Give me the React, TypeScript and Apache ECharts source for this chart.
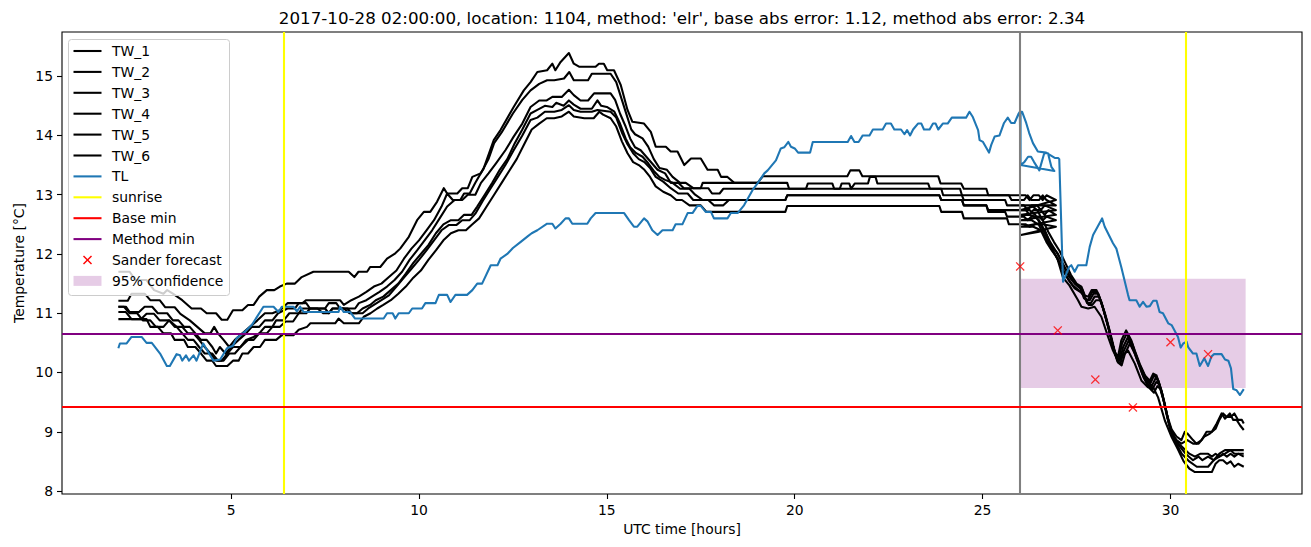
import React, { useEffect, useRef } from "react";
import * as echarts from "echarts";

const titleText =
  "2017-10-28 02:00:00, location: 1104, method: 'elr', base abs error: 1.12, method abs error: 2.34";
const xTicks = [5, 10, 15, 20, 25, 30];
const yTicks = [8, 9, 10, 11, 12, 13, 14, 15];

const tw1 = [[2.0,11.70],[2.3,11.70],[2.45,11.56],[2.75,11.56],[2.95,11.39],[3.2,11.33],[3.3,11.39],[3.45,11.33],[3.7,11.22],[3.95,11.08],[4.2,11.08],[4.35,11.0],[4.6,11.0],[4.75,10.89],[4.9,10.89],[5.05,11.05],[5.3,11.05],[5.45,11.14],[5.6,11.14],[5.75,11.28],[5.95,11.39],[6.15,11.39],[6.3,11.45],[6.48,11.5],[6.7,11.5],[6.88,11.61],[7.19,11.7],[8.13,11.7],[8.28,11.61],[8.39,11.7],[8.62,11.7],[8.7,11.78],[8.97,11.78],[9.15,11.92],[9.37,12.01],[9.5,12.09],[9.73,12.29],[9.95,12.57],[10.13,12.71],[10.3,12.71],[10.48,12.88],[10.66,13.11],[10.75,13.02],[11.02,13.02],[11.15,13.11],[11.3,13.11],[11.42,13.3],[11.64,13.36],[11.72,13.44],[11.99,13.92],[12.17,14.09],[12.52,14.48],[12.79,14.76],[12.97,14.9],[13.15,15.07],[13.41,15.1],[13.55,15.21],[13.63,15.1],[13.77,15.24],[13.99,15.39],[14.12,15.21],[14.26,15.16],[14.7,15.16],[14.79,15.21],[14.92,15.21],[15.01,15.1],[15.19,15.1],[15.37,14.85],[15.55,14.43],[15.68,14.23],[15.99,14.2],[16.17,14.06],[16.3,13.81],[16.57,13.81],[16.7,13.73],[16.88,13.73],[17.06,13.5],[17.24,13.61],[17.5,13.61],[17.68,13.42],[17.95,13.42],[18.04,13.3],[18.21,13.3],[18.39,13.2],[19.01,13.2],[19.15,13.31],[21.4,13.31],[21.48,13.41],[21.72,13.41],[21.8,13.31],[23.82,13.31],[23.88,13.19],[24.43,13.19],[24.5,13.1],[25.1,13.1],[25.15,12.99],[25.7,12.99],[25.77,12.91],[26.0,12.91],[26.1,12.91],[26.2,12.99],[26.3,12.91],[26.5,12.91],[26.6,12.99],[26.7,12.91],[26.95,12.82],[26.02,12.82],[26.3,12.82],[26.45,12.74],[26.6,12.57],[26.75,12.37],[26.9,12.2],[27.05,12.05],[27.2,11.85],[27.35,11.65],[27.5,11.5],[27.63,11.45],[27.72,11.3],[27.81,11.28],[27.9,11.39],[28.03,11.39],[28.16,11.19],[28.3,10.88],[28.43,10.54],[28.51,10.36],[28.6,10.26],[28.69,10.54],[28.82,10.71],[28.96,10.54],[29.05,10.37],[29.18,10.15],[29.32,9.95],[29.45,9.86],[29.54,9.98],[29.63,9.95],[29.76,9.7],[29.9,9.3],[30.03,9.04],[30.16,8.92],[30.29,8.86],[30.38,9.0],[30.45,8.97],[30.6,8.86],[30.69,8.8],[30.83,8.86],[30.96,9.0],[31.1,9.0],[31.23,9.14],[31.36,9.31],[31.45,9.22],[31.58,9.31],[31.67,9.2],[31.76,9.2],[31.85,9.11],[31.95,9.03]];

const tw2 = [[2.0,11.21],[2.25,11.21],[2.35,11.33],[2.7,11.33],[2.85,11.22],[3.1,11.22],[3.25,11.1],[3.5,11.1],[3.65,10.99],[3.9,10.88],[4.1,10.77],[4.3,10.66],[4.45,10.66],[4.55,10.77],[4.65,10.66],[4.8,10.55],[4.95,10.43],[5.1,10.55],[5.3,10.66],[5.5,10.77],[5.7,10.88],[5.9,11.0],[6.1,11.0],[6.3,11.05],[6.5,11.17],[6.9,11.17],[7.0,11.22],[7.9,11.22],[8.0,11.14],[8.2,11.22],[8.4,11.28],[8.6,11.36],[8.8,11.45],[9.0,11.5],[9.2,11.61],[9.4,11.72],[9.6,11.92],[9.8,12.09],[10.0,12.23],[10.2,12.4],[10.4,12.57],[10.6,12.8],[10.75,13.02],[10.9,12.91],[11.1,12.91],[11.2,13.02],[11.35,13.02],[11.5,13.2],[11.7,13.42],[11.85,13.6],[12.0,13.87],[12.2,14.05],[12.5,14.37],[12.75,14.6],[12.97,14.76],[13.2,14.87],[13.41,14.93],[13.6,14.93],[13.86,14.96],[14.0,15.07],[14.12,14.93],[14.5,14.93],[14.6,15.04],[15.1,15.04],[15.25,14.9],[15.4,14.6],[15.55,14.3],[15.65,14.1],[15.75,14.02],[15.95,13.95],[16.1,13.81],[16.25,13.6],[16.4,13.45],[16.6,13.42],[16.75,13.3],[16.95,13.2],[17.1,13.2],[17.3,13.11],[17.5,13.11],[17.55,13.2],[19.8,13.2],[19.85,13.1],[20.3,13.1],[20.35,13.19],[21.0,13.19],[21.05,13.1],[21.2,13.1],[21.25,13.19],[21.45,13.19],[21.5,13.1],[21.6,13.19],[21.95,13.19],[22.0,13.3],[22.15,13.3],[22.2,13.19],[23.55,13.19],[23.6,13.1],[24.4,13.1],[24.45,12.99],[26.0,12.99],[26.15,12.99],[26.25,12.91],[26.35,12.99],[26.5,12.99],[26.6,12.91],[26.7,12.99],[26.95,12.91],[26.02,12.74],[26.25,12.74],[26.4,12.66],[26.55,12.49],[26.7,12.3],[26.85,12.12],[27.0,12.01],[27.15,11.8],[27.3,11.62],[27.45,11.5],[27.6,11.42],[27.7,11.25],[27.8,11.22],[27.92,11.36],[28.05,11.36],[28.18,11.14],[28.32,10.82],[28.45,10.5],[28.53,10.3],[28.62,10.2],[28.71,10.49],[28.84,10.66],[28.98,10.49],[29.07,10.32],[29.2,10.1],[29.34,9.92],[29.47,9.82],[29.56,9.95],[29.65,9.9],[29.78,9.64],[29.92,9.22],[30.05,8.97],[30.16,8.86],[30.29,8.8],[30.45,8.86],[30.6,8.8],[30.75,8.8],[30.9,8.92],[31.05,8.97],[31.2,9.05],[31.3,9.2],[31.4,9.31],[31.5,9.25],[31.6,9.25],[31.7,9.31],[31.8,9.2],[31.9,9.2],[31.95,9.14]];

const tw3 = [[2.0,11.11],[2.2,11.11],[2.3,11.02],[2.55,11.02],[2.7,11.11],[2.9,11.11],[3.05,11.0],[3.3,11.0],[3.45,10.88],[3.6,10.88],[3.75,10.77],[3.9,10.77],[4.05,10.66],[4.2,10.55],[4.35,10.55],[4.5,10.43],[4.6,10.32],[4.7,10.43],[4.85,10.32],[5.0,10.43],[5.2,10.55],[5.4,10.66],[5.55,10.77],[5.75,10.77],[5.9,10.88],[6.1,10.88],[6.25,11.0],[6.5,11.08],[6.7,11.08],[6.8,11.17],[7.0,11.17],[7.1,11.08],[7.5,11.08],[7.6,11.17],[7.8,11.17],[7.9,11.08],[8.3,11.08],[8.4,11.17],[8.6,11.22],[8.8,11.3],[8.95,11.36],[9.15,11.45],[9.35,11.56],[9.55,11.7],[9.75,11.9],[9.95,12.06],[10.15,12.23],[10.35,12.4],[10.55,12.6],[10.75,12.8],[10.95,12.91],[11.15,12.91],[11.3,13.0],[11.5,13.0],[11.65,13.2],[11.85,13.36],[12.05,13.53],[12.3,13.75],[12.52,13.98],[12.75,14.2],[12.97,14.48],[13.2,14.59],[13.4,14.59],[13.55,14.65],[13.8,14.65],[13.99,14.77],[14.12,14.68],[14.3,14.59],[14.5,14.59],[14.66,14.71],[15.1,14.71],[15.22,14.6],[15.35,14.37],[15.5,14.15],[15.62,13.95],[15.75,13.8],[15.9,13.75],[16.05,13.64],[16.2,13.53],[16.35,13.42],[16.55,13.36],[16.7,13.2],[16.9,13.2],[17.05,13.11],[17.7,13.11],[17.8,13.02],[18.0,13.02],[18.1,13.1],[23.9,13.1],[23.95,12.99],[24.45,12.99],[24.5,12.91],[25.6,12.91],[25.65,12.82],[26.0,12.82],[26.1,12.82],[26.2,12.74],[26.3,12.82],[26.45,12.82],[26.55,12.74],[26.65,12.82],[26.95,12.74],[26.02,12.66],[26.3,12.66],[26.5,12.57],[26.65,12.4],[26.8,12.2],[26.95,12.05],[27.1,11.88],[27.25,11.7],[27.4,11.55],[27.55,11.45],[27.66,11.39],[27.75,11.22],[27.85,11.22],[27.95,11.33],[28.08,11.33],[28.2,11.1],[28.35,10.77],[28.47,10.45],[28.56,10.26],[28.65,10.2],[28.74,10.43],[28.87,10.6],[29.0,10.43],[29.1,10.26],[29.23,10.04],[29.37,9.86],[29.5,9.77],[29.6,9.9],[29.68,9.86],[29.82,9.55],[29.96,9.14],[30.1,8.9],[30.22,8.8],[30.3,8.75],[30.5,8.63],[30.65,8.58],[30.8,8.63],[31.0,8.63],[31.1,8.58],[31.2,8.63],[31.3,8.58],[31.4,8.63],[31.5,8.58],[31.6,8.63],[31.7,8.58],[31.8,8.63],[31.95,8.58]];

const tw4 = [[2.0,11.02],[2.2,11.02],[2.35,10.9],[2.6,10.9],[2.75,10.99],[2.95,10.99],[3.1,10.88],[3.35,10.88],[3.5,10.77],[3.7,10.77],[3.85,10.66],[4.0,10.66],[4.15,10.55],[4.3,10.43],[4.45,10.32],[4.6,10.2],[4.75,10.2],[4.9,10.32],[5.05,10.43],[5.25,10.43],[5.4,10.55],[5.6,10.6],[5.75,10.66],[5.95,10.66],[6.1,10.77],[6.3,10.77],[6.45,10.86],[6.65,10.86],[6.8,11.0],[7.0,11.0],[7.1,11.08],[7.5,11.08],[7.6,11.0],[7.7,11.08],[8.1,11.08],[8.2,11.0],[8.35,11.0],[8.5,11.08],[8.7,11.14],[8.85,11.22],[9.05,11.28],[9.25,11.39],[9.45,11.5],[9.65,11.67],[9.85,11.85],[10.05,12.0],[10.25,12.15],[10.45,12.35],[10.65,12.5],[10.85,12.57],[11.05,12.57],[11.2,12.66],[11.4,12.66],[11.55,12.8],[11.75,13.0],[11.95,13.2],[12.15,13.42],[12.35,13.6],[12.55,13.87],[12.75,14.1],[12.97,14.37],[13.15,14.43],[13.35,14.5],[13.55,14.48],[13.65,14.55],[13.85,14.5],[13.99,14.59],[14.12,14.52],[14.3,14.45],[14.6,14.45],[14.75,14.59],[14.85,14.5],[15.0,14.48],[15.2,14.4],[15.35,14.2],[15.5,13.95],[15.62,13.8],[15.78,13.7],[15.95,13.64],[16.1,13.53],[16.25,13.4],[16.4,13.3],[16.55,13.25],[16.75,13.2],[16.95,13.1],[17.2,13.1],[17.35,13.0],[17.55,12.91],[19.75,12.91],[19.8,12.99],[23.85,12.99],[23.9,12.91],[24.45,12.91],[24.5,12.82],[25.1,12.82],[25.15,12.74],[26.0,12.74],[26.15,12.74],[26.25,12.66],[26.35,12.74],[26.55,12.74],[26.65,12.66],[26.75,12.74],[26.95,12.66],[26.02,12.57],[26.3,12.57],[26.5,12.49],[26.65,12.3],[26.8,12.12],[26.95,11.97],[27.1,11.78],[27.25,11.6],[27.4,11.47],[27.55,11.39],[27.68,11.33],[27.78,11.17],[27.88,11.17],[27.98,11.28],[28.1,11.28],[28.22,11.05],[28.37,10.71],[28.49,10.4],[28.58,10.2],[28.67,10.15],[28.76,10.37],[28.89,10.54],[29.02,10.37],[29.12,10.2],[29.25,9.98],[29.39,9.8],[29.52,9.72],[29.62,9.84],[29.7,9.8],[29.84,9.48],[29.98,9.08],[30.12,8.86],[30.25,8.75],[30.4,8.63],[30.6,8.52],[30.75,8.58],[30.85,8.52],[31.0,8.58],[31.15,8.52],[31.3,8.63],[31.45,8.69],[31.6,8.69],[31.7,8.63],[31.95,8.63]];

const tw5 = [[2.0,11.11],[2.15,11.11],[2.3,11.0],[2.5,11.0],[2.65,10.88],[2.85,10.88],[3.0,10.77],[3.2,10.77],[3.35,10.88],[3.55,10.77],[3.7,10.66],[3.85,10.55],[4.0,10.55],[4.15,10.43],[4.3,10.32],[4.5,10.32],[4.65,10.2],[4.8,10.2],[4.95,10.32],[5.1,10.32],[5.25,10.43],[5.45,10.55],[5.6,10.55],[5.75,10.66],[5.9,10.77],[6.1,10.77],[6.2,10.88],[6.4,10.88],[6.55,11.0],[6.8,11.0],[6.9,11.08],[7.3,11.08],[7.45,11.0],[7.6,11.0],[7.7,11.08],[8.0,11.08],[8.15,11.0],[8.5,11.0],[8.65,11.08],[8.8,11.14],[9.0,11.22],[9.2,11.3],[9.4,11.45],[9.6,11.6],[9.8,11.75],[10.0,11.9],[10.2,12.06],[10.4,12.23],[10.6,12.4],[10.8,12.49],[11.0,12.49],[11.15,12.57],[11.35,12.57],[11.5,12.68],[11.7,12.9],[11.9,13.1],[12.1,13.3],[12.3,13.5],[12.52,13.75],[12.75,14.0],[12.97,14.26],[13.15,14.3],[13.35,14.4],[13.6,14.4],[13.8,14.43],[13.99,14.51],[14.12,14.43],[14.3,14.4],[14.6,14.4],[14.75,14.43],[15.1,14.4],[15.25,14.3],[15.4,14.05],[15.55,13.85],[15.7,13.7],[15.85,13.6],[16.0,13.55],[16.15,13.45],[16.3,13.3],[16.5,13.22],[16.7,13.11],[16.9,13.02],[17.15,13.02],[17.3,12.91],[17.7,12.91],[17.85,12.82],[18.1,12.82],[18.25,12.91],[19.75,12.91],[19.8,12.99],[23.85,12.99],[23.9,12.91],[24.45,12.91],[24.5,12.82],[25.1,12.82],[25.15,12.71],[25.6,12.71],[25.65,12.63],[26.0,12.63],[26.1,12.63],[26.2,12.57],[26.3,12.63],[26.5,12.63],[26.6,12.57],[26.7,12.63],[26.95,12.57],[26.02,12.46],[26.35,12.46],[26.55,12.4],[26.7,12.2],[26.85,12.05],[27.0,11.92],[27.15,11.72],[27.3,11.55],[27.45,11.42],[27.6,11.36],[27.72,11.28],[27.82,11.14],[27.92,11.14],[28.02,11.22],[28.14,11.22],[28.26,10.99],[28.4,10.66],[28.52,10.35],[28.6,10.17],[28.7,10.12],[28.79,10.32],[28.92,10.49],[29.05,10.32],[29.15,10.15],[29.28,9.92],[29.42,9.75],[29.56,9.66],[29.65,9.77],[29.73,9.72],[29.87,9.4],[30.0,9.02],[30.15,8.8],[30.3,8.63],[30.5,8.5],[30.7,8.41],[31.0,8.41],[31.15,8.52],[31.3,8.58],[31.45,8.63],[31.6,8.69],[31.95,8.69]];

const tw6 = [[2.0,10.9],[2.75,10.9],[2.85,10.77],[3.05,10.77],[3.2,10.66],[3.4,10.66],[3.5,10.55],[3.75,10.55],[3.85,10.43],[4.05,10.43],[4.2,10.32],[4.35,10.2],[4.5,10.2],[4.6,10.11],[4.9,10.11],[5.05,10.2],[5.2,10.2],[5.3,10.32],[5.45,10.32],[5.6,10.43],[5.77,10.43],[5.9,10.55],[6.2,10.55],[6.35,10.63],[6.66,10.63],[6.8,10.72],[7.02,10.77],[7.11,10.83],[7.77,10.83],[7.86,10.91],[8.0,10.83],[8.4,10.83],[8.53,10.94],[8.71,11.0],[8.89,11.08],[9.05,11.14],[9.25,11.22],[9.45,11.33],[9.65,11.45],[9.85,11.6],[10.05,11.72],[10.25,11.9],[10.45,12.06],[10.65,12.23],[10.85,12.35],[11.05,12.4],[11.25,12.4],[11.4,12.49],[11.6,12.6],[11.8,12.8],[12.0,13.0],[12.2,13.2],[12.4,13.4],[12.6,13.6],[12.8,13.85],[13.0,14.1],[13.2,14.2],[13.4,14.29],[13.6,14.29],[13.8,14.32],[13.99,14.4],[14.12,14.32],[14.4,14.29],[14.65,14.29],[14.8,14.4],[14.9,14.35],[15.1,14.29],[15.25,14.15],[15.4,13.9],[15.55,13.7],[15.7,13.55],[15.85,13.5],[16.0,13.42],[16.15,13.3],[16.3,13.14],[16.5,13.05],[16.7,12.99],[16.85,12.91],[17.0,12.91],[17.2,12.82],[17.5,12.82],[17.65,12.71],[19.75,12.71],[19.8,12.81],[23.85,12.81],[23.9,12.71],[24.45,12.71],[24.5,12.6],[25.65,12.6],[25.7,12.5],[26.0,12.5],[26.15,12.5],[26.25,12.46],[26.4,12.5],[26.6,12.5],[26.95,12.46],[26.02,12.32],[26.47,12.37],[26.65,12.4],[26.83,12.12],[27.0,11.9],[27.14,11.6],[27.31,11.47],[27.54,11.22],[27.63,11.11],[27.81,11.08],[27.98,11.11],[28.16,10.94],[28.34,10.6],[28.47,10.37],[28.6,10.2],[28.74,10.29],[28.87,10.37],[29.05,10.15],[29.23,9.86],[29.4,9.75],[29.54,9.75],[29.67,9.58],[29.85,9.19],[30.03,8.91],[30.2,8.7],[30.35,8.5],[30.5,8.38],[30.65,8.32],[31.1,8.32],[31.2,8.46],[31.3,8.52],[31.4,8.52],[31.5,8.46],[31.6,8.5],[31.7,8.41],[31.8,8.46],[31.95,8.41]];

const tl = [[2.0,10.41],[2.04,10.49],[2.22,10.49],[2.35,10.6],[2.62,10.6],[2.75,10.5],[2.89,10.5],[3.11,10.32],[3.29,10.11],[3.37,10.11],[3.55,10.31],[3.64,10.29],[3.7,10.2],[3.8,10.29],[3.88,10.2],[4.0,10.29],[4.08,10.2],[4.26,10.49],[4.44,10.29],[4.53,10.2],[4.71,10.22],[4.89,10.41],[5.05,10.45],[5.15,10.58],[5.37,10.69],[5.55,10.8],[5.86,11.11],[6.13,11.11],[6.26,11.02],[6.35,11.11],[6.66,11.11],[6.75,11.03],[6.84,11.11],[6.93,11.02],[7.86,11.02],[7.9,11.11],[8.0,11.02],[8.17,11.02],[8.3,10.91],[9.06,10.91],[9.15,11.0],[9.3,11.0],[9.37,10.91],[9.46,11.0],[9.73,11.0],[9.82,11.08],[10.08,11.08],[10.17,11.17],[10.44,11.17],[10.53,11.31],[10.75,11.31],[10.84,11.19],[10.97,11.31],[11.28,11.31],[11.42,11.39],[11.55,11.5],[11.68,11.5],[11.91,11.81],[12.09,11.81],[12.17,11.92],[12.35,12.0],[12.5,12.1],[12.7,12.2],[12.9,12.3],[13.0,12.35],[13.15,12.4],[13.41,12.51],[13.55,12.51],[13.63,12.43],[13.77,12.51],[13.9,12.6],[13.99,12.6],[14.08,12.51],[14.48,12.51],[14.57,12.6],[14.7,12.69],[15.46,12.69],[15.59,12.57],[15.72,12.46],[15.81,12.46],[15.99,12.6],[16.08,12.55],[16.21,12.4],[16.35,12.32],[16.48,12.4],[16.75,12.4],[16.83,12.5],[17.01,12.5],[17.15,12.69],[17.28,12.69],[17.41,12.81],[17.5,12.81],[17.63,12.71],[17.77,12.71],[17.85,12.6],[18.21,12.6],[18.3,12.69],[18.48,12.69],[18.65,12.82],[18.88,13.08],[19.01,13.19],[19.19,13.36],[19.28,13.41],[19.5,13.58],[19.63,13.78],[19.72,13.8],[19.83,13.89],[19.9,13.81],[20.0,13.78],[20.09,13.71],[20.41,13.71],[20.48,13.89],[21.41,13.89],[21.5,13.99],[21.59,13.89],[21.7,13.89],[21.81,14.0],[21.99,14.0],[22.08,14.1],[22.34,14.1],[22.43,14.2],[22.56,14.2],[22.65,14.1],[22.83,14.1],[22.92,14.02],[22.99,14.09],[23.07,14.0],[23.15,14.1],[23.28,14.2],[23.37,14.2],[23.44,14.1],[23.59,14.1],[23.68,14.2],[23.75,14.2],[23.82,14.1],[23.94,14.2],[24.07,14.2],[24.18,14.3],[24.56,14.3],[24.65,14.4],[24.74,14.31],[24.88,14.09],[24.92,13.92],[25.01,13.89],[25.17,13.71],[25.23,13.84],[25.32,13.98],[25.45,14.0],[25.57,14.21],[25.67,14.3],[25.76,14.21],[25.85,14.21],[25.96,14.37],[25.99,14.4],[26.01,13.5],[26.11,13.55],[26.21,13.64],[26.29,13.64],[26.37,13.55],[26.51,13.41],[26.64,13.7],[26.74,13.7],[26.83,13.47],[26.91,13.4],[26.01,13.5],[26.01,14.4],[26.05,14.4],[26.16,14.21],[26.24,14.04],[26.34,13.87],[26.47,13.73],[26.69,13.71],[26.92,13.62],[27.01,13.62],[27.04,13.6],[27.14,11.53],[27.23,11.67],[27.3,11.78],[27.36,11.81],[27.45,11.7],[27.54,11.81],[27.76,11.81],[27.85,12.12],[27.94,12.32],[28.18,12.6],[28.25,12.46],[28.47,12.18],[28.56,12.09],[28.69,11.78],[28.87,11.31],[28.91,11.22],[29.09,11.22],[29.18,11.11],[29.27,11.19],[29.36,11.11],[29.45,11.12],[29.54,11.21],[29.63,11.21],[29.71,11.02],[29.8,11.0],[29.94,10.83],[30.03,10.8],[30.2,10.6],[30.27,10.42],[30.34,10.49],[30.43,10.52],[30.47,10.43],[30.6,10.32],[30.69,10.32],[30.78,10.11],[30.9,10.24],[31.0,10.11],[31.09,10.27],[31.16,10.31],[31.36,10.31],[31.45,10.22],[31.54,10.2],[31.61,10.07],[31.67,9.72],[31.76,9.7],[31.85,9.62],[31.95,9.72]];

const sunriseHours = [6.39, 30.41];
const forecastStart = 26;
const baseMin = 9.42;
const methodMin = 10.65;
const sanderForecast = [[26, 11.79], [27, 10.71], [28, 9.88], [29, 9.41], [30, 10.51], [31, 10.31]];
const confidence = { x0: 26, x1: 32, low: 9.74, high: 11.58 };

const twSeries = [
  { name: "TW_1", data: tw1 },
  { name: "TW_2", data: tw2 },
  { name: "TW_3", data: tw3 },
  { name: "TW_4", data: tw4 },
  { name: "TW_5", data: tw5 },
  { name: "TW_6", data: tw6 },
];

const FONT = '"DejaVu Sans", sans-serif';
const LW = 2.08;
const crossPath =
  "path://M0,1L1,0L5,4L9,0L10,1L6,5L10,9L9,10L5,6L1,10L0,9L4,5Z";

const legendItems = [
  { label: "TW_1", kind: "line", color: "#000000" },
  { label: "TW_2", kind: "line", color: "#000000" },
  { label: "TW_3", kind: "line", color: "#000000" },
  { label: "TW_4", kind: "line", color: "#000000" },
  { label: "TW_5", kind: "line", color: "#000000" },
  { label: "TW_6", kind: "line", color: "#000000" },
  { label: "TL", kind: "line", color: "#1f77b4" },
  { label: "sunrise", kind: "line", color: "#ffff00" },
  { label: "Base min", kind: "line", color: "#ff0000" },
  { label: "Method min", kind: "line", color: "#800080" },
  { label: "Sander forecast", kind: "cross", color: "#ff0000" },
  { label: "95% confidence", kind: "patch", color: "rgba(128,0,128,0.2)" },
];

function buildLegend() {
  const children: any[] = [];
  children.push({
    type: "rect",
    shape: { x: 68.5, y: 39.5, width: 161, height: 256, r: 3 },
    style: { fill: "rgba(255,255,255,0.8)", stroke: "#cccccc", lineWidth: 1 },
    z: 100,
  });
  legendItems.forEach((it, i) => {
    const cy = 51 + i * 20.9;
    if (it.kind === "line") {
      children.push({
        type: "line",
        shape: { x1: 73.5, y1: cy, x2: 101.5, y2: cy },
        style: { stroke: it.color, lineWidth: LW },
        z: 101,
      });
    } else if (it.kind === "cross") {
      children.push({
        type: "line",
        shape: { x1: 83.5, y1: cy - 4, x2: 91.5, y2: cy + 4 },
        style: { stroke: it.color, lineWidth: 1.4 },
        z: 101,
      });
      children.push({
        type: "line",
        shape: { x1: 83.5, y1: cy + 4, x2: 91.5, y2: cy - 4 },
        style: { stroke: it.color, lineWidth: 1.4 },
        z: 101,
      });
    } else {
      children.push({
        type: "rect",
        shape: { x: 73.5, y: cy - 5, width: 28, height: 10 },
        style: { fill: it.color },
        z: 101,
      });
    }
    children.push({
      type: "text",
      x: 112,
      y: cy,
      style: {
        text: it.label,
        fill: "#000",
        fontSize: 13.9,
        fontFamily: FONT,
        align: "left",
        verticalAlign: "middle",
      },
      z: 101,
    });
  });
  return children;
}

function markSeries(name: string, markLineData: any[], color: string) {
  return {
    type: "line",
    name,
    data: [],
    z: 6,
    silent: true,
    markLine: {
      silent: true,
      symbol: ["none", "none"],
      label: { show: false },
      emphasis: { disabled: true },
      lineStyle: { color, width: LW, type: "solid" },
      data: markLineData,
    },
  };
}

export default function App() {
  const ref = useRef<HTMLDivElement>(null);
  useEffect(() => {
    const chart = echarts.init(ref.current!, null, { renderer: "svg" });
    const series: any[] = [
      {
        type: "line",
        name: "confidence",
        data: [],
        z: 1,
        silent: true,
        markArea: {
          silent: true,
          itemStyle: { color: "rgba(128,0,128,0.2)" },
          data: [[{ coord: [confidence.x0, confidence.low] }, { coord: [confidence.x1, confidence.high] }]],
        },
      },
      ...twSeries.map((s) => ({
        type: "line",
        name: s.name,
        data: s.data,
        showSymbol: false,
        symbol: "none",
        z: 3,
        lineStyle: { color: "#000000", width: LW, join: "round" },
        itemStyle: { color: "#000000" },
      })),
      {
        type: "line",
        name: "TL",
        data: tl,
        showSymbol: false,
        symbol: "none",
        z: 4,
        lineStyle: { color: "#1f77b4", width: LW, join: "round" },
        itemStyle: { color: "#1f77b4" },
      },
      markSeries("forecast start", [{ xAxis: forecastStart }], "#808080"),
      markSeries("sunrise", sunriseHours.map((h) => ({ xAxis: h })), "#ffff00"),
      markSeries("Base min", [{ yAxis: baseMin }], "#ff0000"),
      markSeries("Method min", [{ yAxis: methodMin }], "#800080"),
      {
        type: "scatter",
        name: "Sander forecast",
        data: sanderForecast,
        symbol: crossPath,
        symbolSize: 9,
        z: 7,
        itemStyle: { color: "#ff0000" },
      },
    ];
    chart.setOption({
      animation: false,
      textStyle: { fontFamily: FONT },
      grid: {
        left: 62,
        right: 9,
        top: 32,
        bottom: 53,
        show: true,
        borderColor: "#000",
        borderWidth: 1.1,
        backgroundColor: "transparent",
      },
      xAxis: {
        type: "value",
        min: 0.5,
        max: 33.5,
        axisLine: { show: false },
        splitLine: { show: false },
        axisTick: { show: true, length: 5, lineStyle: { color: "#000", width: 1.1 }, customValues: xTicks },
        axisLabel: { color: "#000", fontSize: 13.9, fontFamily: FONT, margin: 9, customValues: xTicks },
      },
      yAxis: {
        type: "value",
        min: 7.95,
        max: 15.745,
        axisLine: { show: false },
        splitLine: { show: false },
        axisTick: { show: true, length: 5, lineStyle: { color: "#000", width: 1.1 }, customValues: yTicks },
        axisLabel: { color: "#000", fontSize: 13.9, fontFamily: FONT, margin: 9, customValues: yTicks },
      },
      series,
      graphic: [
        {
          type: "text",
          x: 682,
          y: 18,
          style: {
            text: titleText,
            fill: "#000",
            fontSize: 16.7,
            fontFamily: FONT,
            align: "center",
            verticalAlign: "middle",
          },
          z: 100,
        },
        {
          type: "text",
          x: 682,
          y: 529,
          style: {
            text: "UTC time [hours]",
            fill: "#000",
            fontSize: 13.9,
            fontFamily: FONT,
            align: "center",
            verticalAlign: "middle",
          },
          z: 100,
        },
        {
          type: "text",
          x: 19,
          y: 263,
          rotation: Math.PI / 2,
          style: {
            text: "Temperature [°C]",
            fill: "#000",
            fontSize: 13.9,
            fontFamily: FONT,
            align: "center",
            verticalAlign: "middle",
          },
          z: 100,
        },
        ...buildLegend(),
      ],
    });
    return () => chart.dispose();
  }, []);
  return (
    <div
      ref={ref}
      style={{ position: "fixed", left: 0, top: 0, width: 1311, height: 547, background: "#fff" }}
    />
  );
}
